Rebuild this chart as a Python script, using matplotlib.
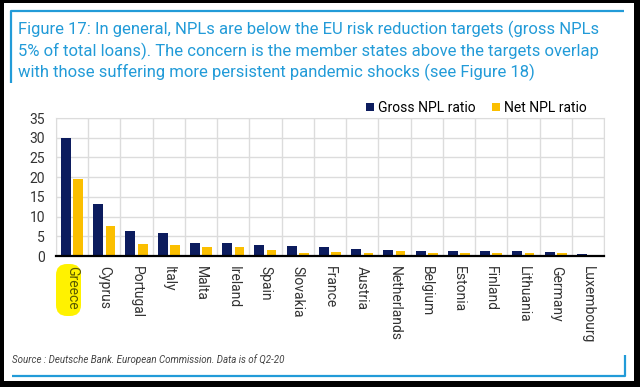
import matplotlib.pyplot as plt
from matplotlib import patches
import numpy as np

countries = ['Greece', 'Cyprus', 'Portugal', 'Italy', 'Malta', 'Ireland', 'Spain',
             'Slovakia', 'France', 'Austria', 'Netherlands', 'Belgium', 'Estonia',
             'Finland', 'Lithuania', 'Germany', 'Luxembourg']
gross_npl = [30.0, 13.3, 6.3, 5.9, 3.3, 3.3, 2.9, 2.5, 2.2, 1.9, 1.6, 1.35, 1.3,
             1.35, 1.2, 1.0, 0.6]
net_npl = [19.6, 7.6, 3.0, 2.8, 2.3, 2.3, 1.5, 0.85, 1.0, 0.85, 1.25, 0.75, 0.75,
           0.85, 0.75, 0.65, 0.35]
yticks = [0, 5, 10, 15, 20, 25, 30, 35]

title_lines = ['Figure 17: In general, NPLs are below the EU risk reduction targets (gross NPLs',
               '5% of total loans). The concern is the member states above the targets overlap',
               'with those suffering more persistent pandemic shocks (see Figure 18)']
source = 'Source : Deutsche Bank. European Commission. Data is of Q2-20'

NAVY = '#0c1c5e'
YELLOW = '#fbbf00'
BLUE = '#229bd8'
FONT = ['Roboto', 'DejaVu Sans']

W, H = 640, 387
fig = plt.figure(figsize=(W / 100, H / 100), dpi=100, facecolor='black')

## background page + blue frame, drawn in pixel coordinates
bg = fig.add_axes([0, 0, 1, 1], zorder=0)
bg.set_xlim(0, W)
bg.set_ylim(H, 0)
bg.axis('off')
bg.add_patch(patches.Rectangle((4, 3), 630, 378, facecolor='white', edgecolor='none'))
bg.plot([11, 11, 624], [83, 11, 11], color=BLUE, lw=1.6, solid_capstyle='butt')
bg.plot([12, 625, 625], [376, 376, 355], color=BLUE, lw=1.6, solid_capstyle='butt')

titles = []
for i, line in enumerate(title_lines):
    titles.append(bg.text(18, [29, 51, 72][i], line, color=BLUE, fontsize=12,
                          va='center', ha='left', family=FONT))
src = bg.text(12, 360, source, color='#444444', fontsize=7.5, style='italic',
              va='center', ha='left', family=FONT)

## highlighter mark behind "Greece"
bg.add_patch(patches.FancyBboxPatch((59, 267), 19, 46, boxstyle='round,pad=3,rounding_size=11',
                                    facecolor='#fff200', edgecolor='none'))

## chart
ax = fig.add_axes([56 / W, 1 - 256 / H, (604 - 56) / W, (256 - 118) / H], zorder=1)
ax.patch.set_alpha(0)
x = np.arange(len(countries))
ax.bar(x - 0.19, gross_npl, width=0.31, color=NAVY, label='Gross NPL ratio', zorder=3)
ax.bar(x + 0.19, net_npl, width=0.3, color=YELLOW, label='Net NPL ratio', zorder=3)

ax.set_xlim(-0.5, len(countries) - 0.5)
ax.set_ylim(0, 35)
ax.set_yticks(yticks)
ax.set_xticks(x)
ax.set_xticks(np.arange(len(countries) + 1) - 0.5, minor=True)
ax.set_xticklabels(countries, rotation=-90, fontsize=10, color='#333333', family=FONT)
ax.get_xticklabels()[0].set_color('#5a5a00')
ax.tick_params(axis='x', which='both', length=0, pad=7)
ax.tick_params(axis='y', length=0, pad=8, labelsize=10, labelcolor='#333333')
for lab in ax.get_yticklabels():
    lab.set_family(FONT)

ax.grid(axis='y', color='#dcdcdc', lw=1, zorder=0)
ax.grid(axis='x', which='minor', color='#dcdcdc', lw=1, zorder=0)
for side in ['top', 'right', 'left']:
    ax.spines[side].set_color('#dcdcdc')
ax.spines['bottom'].set_color('black')
ax.spines['bottom'].set_linewidth(1.6)
ax.spines['bottom'].set_zorder(4)

ax.legend(loc='center right', bbox_to_anchor=((587 - 56) / 548, 1 + (118 - 108) / 138),
          ncol=2, frameon=False, borderpad=0, borderaxespad=0,
          handlelength=0.55, handleheight=0.55, handletextpad=0.3, columnspacing=1.2,
          prop={'family': FONT, 'size': 10})

# shrink the title / source so they span about the same width as in the source
fig.canvas.draw()
r = fig.canvas.get_renderer()
w0 = titles[0].get_window_extent(r).width
scale = min(1.0, 594 / w0)
for t in titles:
    t.set_fontsize(12 * scale)
w1 = src.get_window_extent(r).width
src.set_fontsize(7.5 * 270 / w1)

fig.savefig('out.png', dpi=100, facecolor='black')
